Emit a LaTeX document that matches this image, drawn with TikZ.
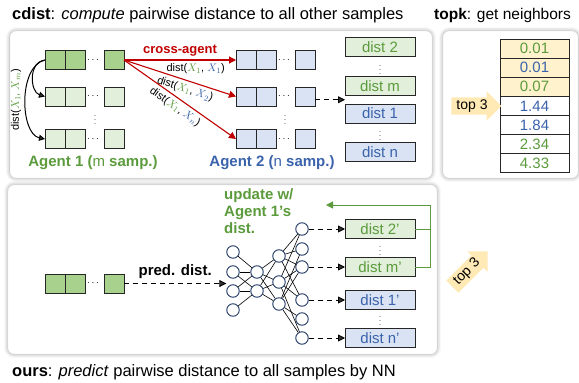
\documentclass[tikz,border=0pt]{standalone}
\usepackage{fontspec}
\setmainfont{Liberation Sans}
\usetikzlibrary{positioning,arrows.meta,shapes.arrows,shadows.blur}

\definecolor{gdark}{HTML}{A9D18E}
\definecolor{glight}{HTML}{E2EFDA}
\definecolor{blight}{HTML}{DAE3F3}
\definecolor{agreen}{HTML}{5B9B3C}
\definecolor{ablue}{HTML}{3A63AC}
\definecolor{xred}{HTML}{C00000}
\definecolor{topfill}{HTML}{FFF2CC}
\definecolor{toparrow}{HTML}{FFE9B5}
\definecolor{navy}{HTML}{1F3864}

\newcommand{\dxy}[2]{dist(\textcolor{agreen}{$X_{#1}$}, \textcolor{ablue}{$X_{#2}$})}
\newcommand{\fs}[1]{\fontsize{#1}{#1}\selectfont}

\begin{document}
\begin{tikzpicture}[x=1pt, y=-1pt,
	panel/.style = { draw=black!10, fill=white, rounded corners=6pt,
		blur shadow={shadow xshift=0pt, shadow yshift=0pt, shadow blur radius=4pt, shadow opacity=40} },
	cell/.style = { draw=black!85, line width=0.9pt, minimum width=20pt, minimum height=19pt,
		inner sep=0pt, outer sep=0pt },
	distbox/.style = { draw=black!85, line width=0.9pt, minimum width=70pt, minimum height=19pt,
		inner sep=0pt, outer sep=0pt, font=\fs{15} },
	tabcell/.style = { draw=black!85, line width=0.9pt, minimum width=69pt, minimum height=19.1pt,
		inner sep=0pt, outer sep=0pt, font=\fs{15} },
	neuron/.style = { draw=navy, fill=white, circle, line width=0.9pt, minimum size=12.5pt, inner sep=0pt },
	dotsh/.style = { font=\fs{10}, inner sep=0pt },
	vdotsh/.style = { font=\fs{7}, inner sep=0pt },
	crossarrow/.style = { draw=xred, line width=1.1pt, -{Triangle[length=7pt,width=7pt]} },
	dasharrow/.style = { line width=0.9pt, dash pattern=on 5pt off 4pt, -{Triangle[length=7pt,width=7pt]} },
	top3/.style = { single arrow, fill=toparrow, single arrow head extend=6pt, minimum height=50pt,
		inner sep=2pt, font=\fs{14} }]

  \useasboundingbox (0,0) rectangle (579,383);

  % panels
  \path[panel] (10,31) rectangle (432,178);
  \path[panel] (443,31) rectangle (578,178);
  \path[panel] (8,185) rectangle (437,354);

  \node[anchor=west, inner sep=0pt, font=\fs{16.5}] (cdtitle) at (12,15)
    {\textbf{cdist}: \textit{compute} pairwise distance to all other samples};
  \node[anchor=west, inner sep=0pt, font=\fs{15.5}] (tktitle) at (434,15)
    {\textbf{topk}: get neighbors};
  \node[anchor=west, inner sep=0pt, font=\fs{16.5}] (ourtitle) at (12,372)
    {\textbf{ours}: \textit{predict} pairwise distance to all samples by NN};

  % samples of both agents
  \foreach \r/\y/\f in {1/60/gdark, 2/96.5/glight, 3/139/glight} {
    \node[cell, fill=\f] (a\r-1) at (55,\y) {};
    \node[cell, fill=\f, right=0pt of a\r-1] (a\r-2) {};
    \node[dotsh] (a\r-d) at (93,\y) {$\cdots$};
    \node[cell, fill=\f] (a\r-c) at (114,\y) {};
    \node[cell, fill=blight] (b\r-1) at (246,\y) {};
    \node[cell, fill=blight, right=0pt of b\r-1] (b\r-2) {};
    \node[dotsh] (b\r-d) at (284,\y) {$\cdots$};
    \node[cell, fill=blight] (b\r-c) at (305,\y) {};
  }
  \node[vdotsh] (avd) at (95,117) {$\vdots$};
  \node[vdotsh] (bvd) at (285,117) {$\vdots$};

  \node[text=agreen, font=\bfseries\fs{15}] (alab) at (93,163) {Agent 1 (\textmd{m} samp.)};
  \node[text=ablue, font=\bfseries\fs{15}] (blab) at (272,163) {Agent 2 (\textmd{n} samp.)};

  % within agent 1
  \draw[line width=1pt, -{Triangle[length=6pt,width=6pt]}] (a1-1.west) .. controls (28,62) and (30,92) .. (a2-1.west);
  \draw[line width=1pt, -{Triangle[length=6pt,width=6pt]}] (a1-1.west) .. controls (18,66) and (20,134) .. (a3-1.west);
  \node[rotate=90, font=\fs{11}] (selflab) at (16,100) {dist(\textcolor{agreen}{$X_1$, $X_m$})};

  % cross-agent
  \draw[crossarrow] (a1-c.east) -- (b1-1.west)
    node[midway, above=0pt, text=xred, font=\bfseries\fs{13}] (xlab) {cross-agent}
    node[pos=0.64, below=0pt, font=\fs{11}] (dl1) {\dxy{1}{1}};
  \draw[crossarrow] (a1-c.east) -- (b2-1.west)
    node[pos=0.57, sloped, below=0pt, font=\fs{11}] (dl2) {\dxy{1}{2}};
  \draw[crossarrow] (a1-c.east) -- (b3-1.west)
    node[pos=0.5, sloped, below=0pt, font=\fs{11}] (dl3) {\dxy{1}{n}};

  % distance column
  \node[distbox, fill=glight, text=agreen] (d2) at (380,47) {dist 2};
  \node[distbox, fill=glight, text=agreen] (dm) at (380,86) {dist m};
  \node[distbox, fill=blight, text=ablue] (d1) at (380,113.5) {dist 1};
  \node[distbox, fill=blight, text=ablue] (dn) at (380,152) {dist n};
  \node[vdotsh] (dvd1) at (380,67) {$\vdots$};
  \node[vdotsh] (dvd2) at (380,133) {$\vdots$};
  \path (dm.south west) -- (d1.north west) coordinate[midway] (colin);
  \draw[dasharrow] (b2-c.east |- colin) -- (colin);

  % topk table
  \foreach \v/\c/\f [count=\i] in {0.01/agreen/topfill, 0.01/ablue/topfill, 0.07/agreen/topfill,
      1.44/ablue/white, 1.84/ablue/white, 2.34/agreen/white, 4.33/agreen/white}
    \node[tabcell, fill=\f, text=\c] (t\i) at (534.5,{29.45+19.1*\i}) {\v};
  \node[top3] (topa) at (472,106) {top 3};

  % predicted distances
  \node[cell, fill=gdark] (c-1) at (55,283.5) {};
  \node[cell, fill=gdark, right=0pt of c-1] (c-2) {};
  \node[dotsh] (c-d) at (93,283.5) {$\cdots$};
  \node[cell, fill=gdark] (c-c) at (114,283.5) {};

  \foreach \y [count=\i] in {252,272,291,310}
    \node[neuron] (n1-\i) at (233,\y) {};
  \foreach \y [count=\i] in {272,291}
    \node[neuron] (n2-\i) at (257,\y) {};
  \foreach \y [count=\i] in {256,282,304}
    \node[neuron] (n3-\i) at (279,\y) {};
  \foreach \y [count=\i] in {229,249,267,300,319,338}
    \node[neuron] (n4-\i) at (302,\y) {};
  \foreach \a/\b in {1/1,2/1,2/2,3/1,3/2,4/2}
    \draw[line width=0.6pt] (n1-\a) -- (n2-\b);
  \foreach \a/\b in {1/1,1/2,1/3,2/1,2/2,2/3}
    \draw[line width=0.6pt] (n2-\a) -- (n3-\b);
  \foreach \a/\b in {1/1,1/2,1/3,1/4,2/1,2/3,2/4,2/6,3/2,3/3,3/5,3/6}
    \draw[line width=0.6pt] (n3-\a) -- (n4-\b);

  \draw[dasharrow] (c-c.east) -- (c-c.east -| n1-2.west)
    node[midway, above=1pt, font=\bfseries\fs{15}] (predlab) {pred. dist.};

  \node[distbox, fill=glight, text=agreen] (p2) at (380,229) {dist 2'};
  \node[distbox, fill=glight, text=agreen] (pm) at (380,267) {dist m'};
  \node[distbox, fill=blight, text=ablue] (p1) at (380,300) {dist 1'};
  \node[distbox, fill=blight, text=ablue] (pn) at (380,338) {dist n'};
  \node[vdotsh] (pvd1) at (380,248) {$\vdots$};
  \node[vdotsh] (pvd2) at (380,318) {$\vdots$};
  \foreach \a/\b in {1/p2, 3/pm, 4/p1, 6/pn}
    \draw[dasharrow] (n4-\a) -- (\b.west |- n4-\a);

  % feedback of agent 1's own distances
  \coordinate (fbend) at (326,205);
  \draw[draw=agreen, line width=1pt] (p2.east) -- ++(15,0);
  \draw[draw=agreen, line width=1pt, -{Triangle[length=7pt,width=7pt]}] (pm.east) -- ++(15,0) |- (fbend);
  \node[anchor=north west, align=left, text=agreen, font=\bfseries\fs{15}, inner sep=0pt] (updlab) at (224,188)
    {update w/\\[2pt]Agent 1’s\\[2pt]dist.};

  \node[top3, rotate=45] (topb) at (467,272) {top 3};
\end{tikzpicture}
\end{document}
